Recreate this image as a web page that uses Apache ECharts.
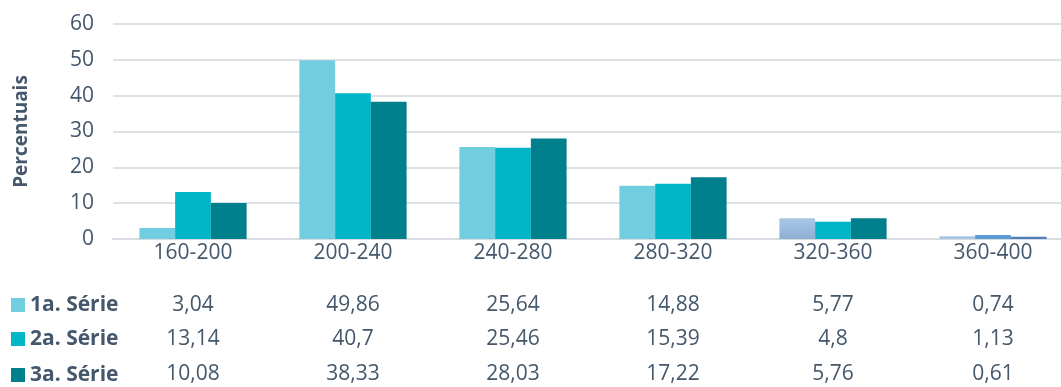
<!DOCTYPE html>
<html>
<head>
<meta charset="utf-8">
<script src="https://cdn.jsdelivr.net/npm/echarts@6/dist/echarts.min.js"></script>
<style>
  html, body { margin: 0; padding: 0; background: #ffffff; overflow: hidden; }
  #chart { width: 1061px; height: 387px; }
</style>
</head>
<body>
<div id="chart"></div>
<script>
// Faixas de valores (categorias) e percentuais por série
const categories = ['160-200', '200-240', '240-280', '280-320', '320-360', '360-400'];
const seriesNames = ['1a. Série', '2a. Série', '3a. Série'];
const serie1 = [3.04, 49.86, 25.64, 14.88, 5.77, 0.74];
const serie2 = [13.14, 40.7, 25.46, 15.39, 4.8, 1.13];
const serie3 = [10.08, 38.33, 28.03, 17.22, 5.76, 0.61];
const yTicks = [0, 10, 20, 30, 40, 50, 60];

const baseColors = ['#73cde0', '#00b5c8', '#007f8c'];
const textColor = '#44576b';
const fontFamily = '"Open Sans", "Noto Sans", sans-serif';
const fontSize = 21;

// Algumas barras das últimas faixas aparecem em tons de azul
const lightBlue = new echarts.graphic.LinearGradient(0, 0, 0, 1, [
  { offset: 0, color: '#aac7e4' },
  { offset: 1, color: '#8eaed5' }
]);
const itemOverrides = {
  0: { 4: lightBlue, 5: '#a9c6e3' },
  1: { 5: '#5b9bd5' },
  2: { 5: '#4f7fb5' }
};

const fmt = v => String(v).replace('.', ',');
const allSeries = [serie1, serie2, serie3];
const rowOffsets = [52, 86, 121];
const rowCenters = [305, 339, 375];

const chart = echarts.init(document.getElementById('chart'), null, { renderer: 'canvas' });

// Linhas da tabela de valores sob o eixo das categorias
const tableAxes = allSeries.map((vals, i) => ({
  type: 'category',
  gridIndex: 0,
  position: 'bottom',
  offset: rowOffsets[i],
  data: vals.map(fmt),
  axisLine: { show: false },
  axisTick: { show: false },
  axisLabel: { color: textColor, fontSize: fontSize, fontFamily: fontFamily, margin: 4, interval: 0 }
}));

// Uma legenda por linha da tabela
const legends = seriesNames.map((n, i) => ({
  left: 11,
  top: rowCenters[i] - fontSize / 2,
  padding: 0,
  itemWidth: 14,
  itemHeight: 14,
  icon: 'rect',
  data: [{ name: n, itemStyle: { color: baseColors[i] } }],
  textStyle: { color: textColor, fontSize: fontSize, fontWeight: 'bold', fontFamily: fontFamily }
}));

chart.setOption({
  animation: false,
  backgroundColor: '#ffffff',
  // a área de plotagem continua além da borda direita
  grid: { left: 113, width: 960, top: 24, bottom: 148, outerBoundsMode: 'none', containLabel: false },
  legend: legends,
  xAxis: [{
    type: 'category',
    data: categories,
    axisLine: { lineStyle: { color: '#d6dce1', width: 2 } },
    axisTick: { show: false },
    axisLabel: { color: textColor, fontSize: fontSize, fontFamily: fontFamily, margin: 4, interval: 0 }
  }].concat(tableAxes),
  yAxis: {
    type: 'value',
    min: yTicks[0],
    max: yTicks[yTicks.length - 1],
    interval: 10,
    name: 'Percentuais',
    nameLocation: 'middle',
    nameGap: 82,
    nameRotate: 90,
    nameTextStyle: { color: textColor, fontSize: fontSize - 2, fontWeight: 'bold', fontFamily: fontFamily },
    axisLine: { show: false },
    axisTick: { show: false },
    splitLine: { lineStyle: { color: '#dde2e6', width: 2 } },
    axisLabel: { color: textColor, fontSize: fontSize, fontFamily: fontFamily, margin: 19 }
  },
  series: allSeries.map((vals, i) => ({
    name: seriesNames[i],
    type: 'bar',
    xAxisIndex: 0,
    barGap: '0%',
    barCategoryGap: '33%',
    itemStyle: { color: baseColors[i] },
    data: vals.map((v, j) => {
      const c = itemOverrides[i] && itemOverrides[i][j];
      return c ? { value: v, itemStyle: { color: c } } : v;
    })
  }))
});
</script>
</body>
</html>
